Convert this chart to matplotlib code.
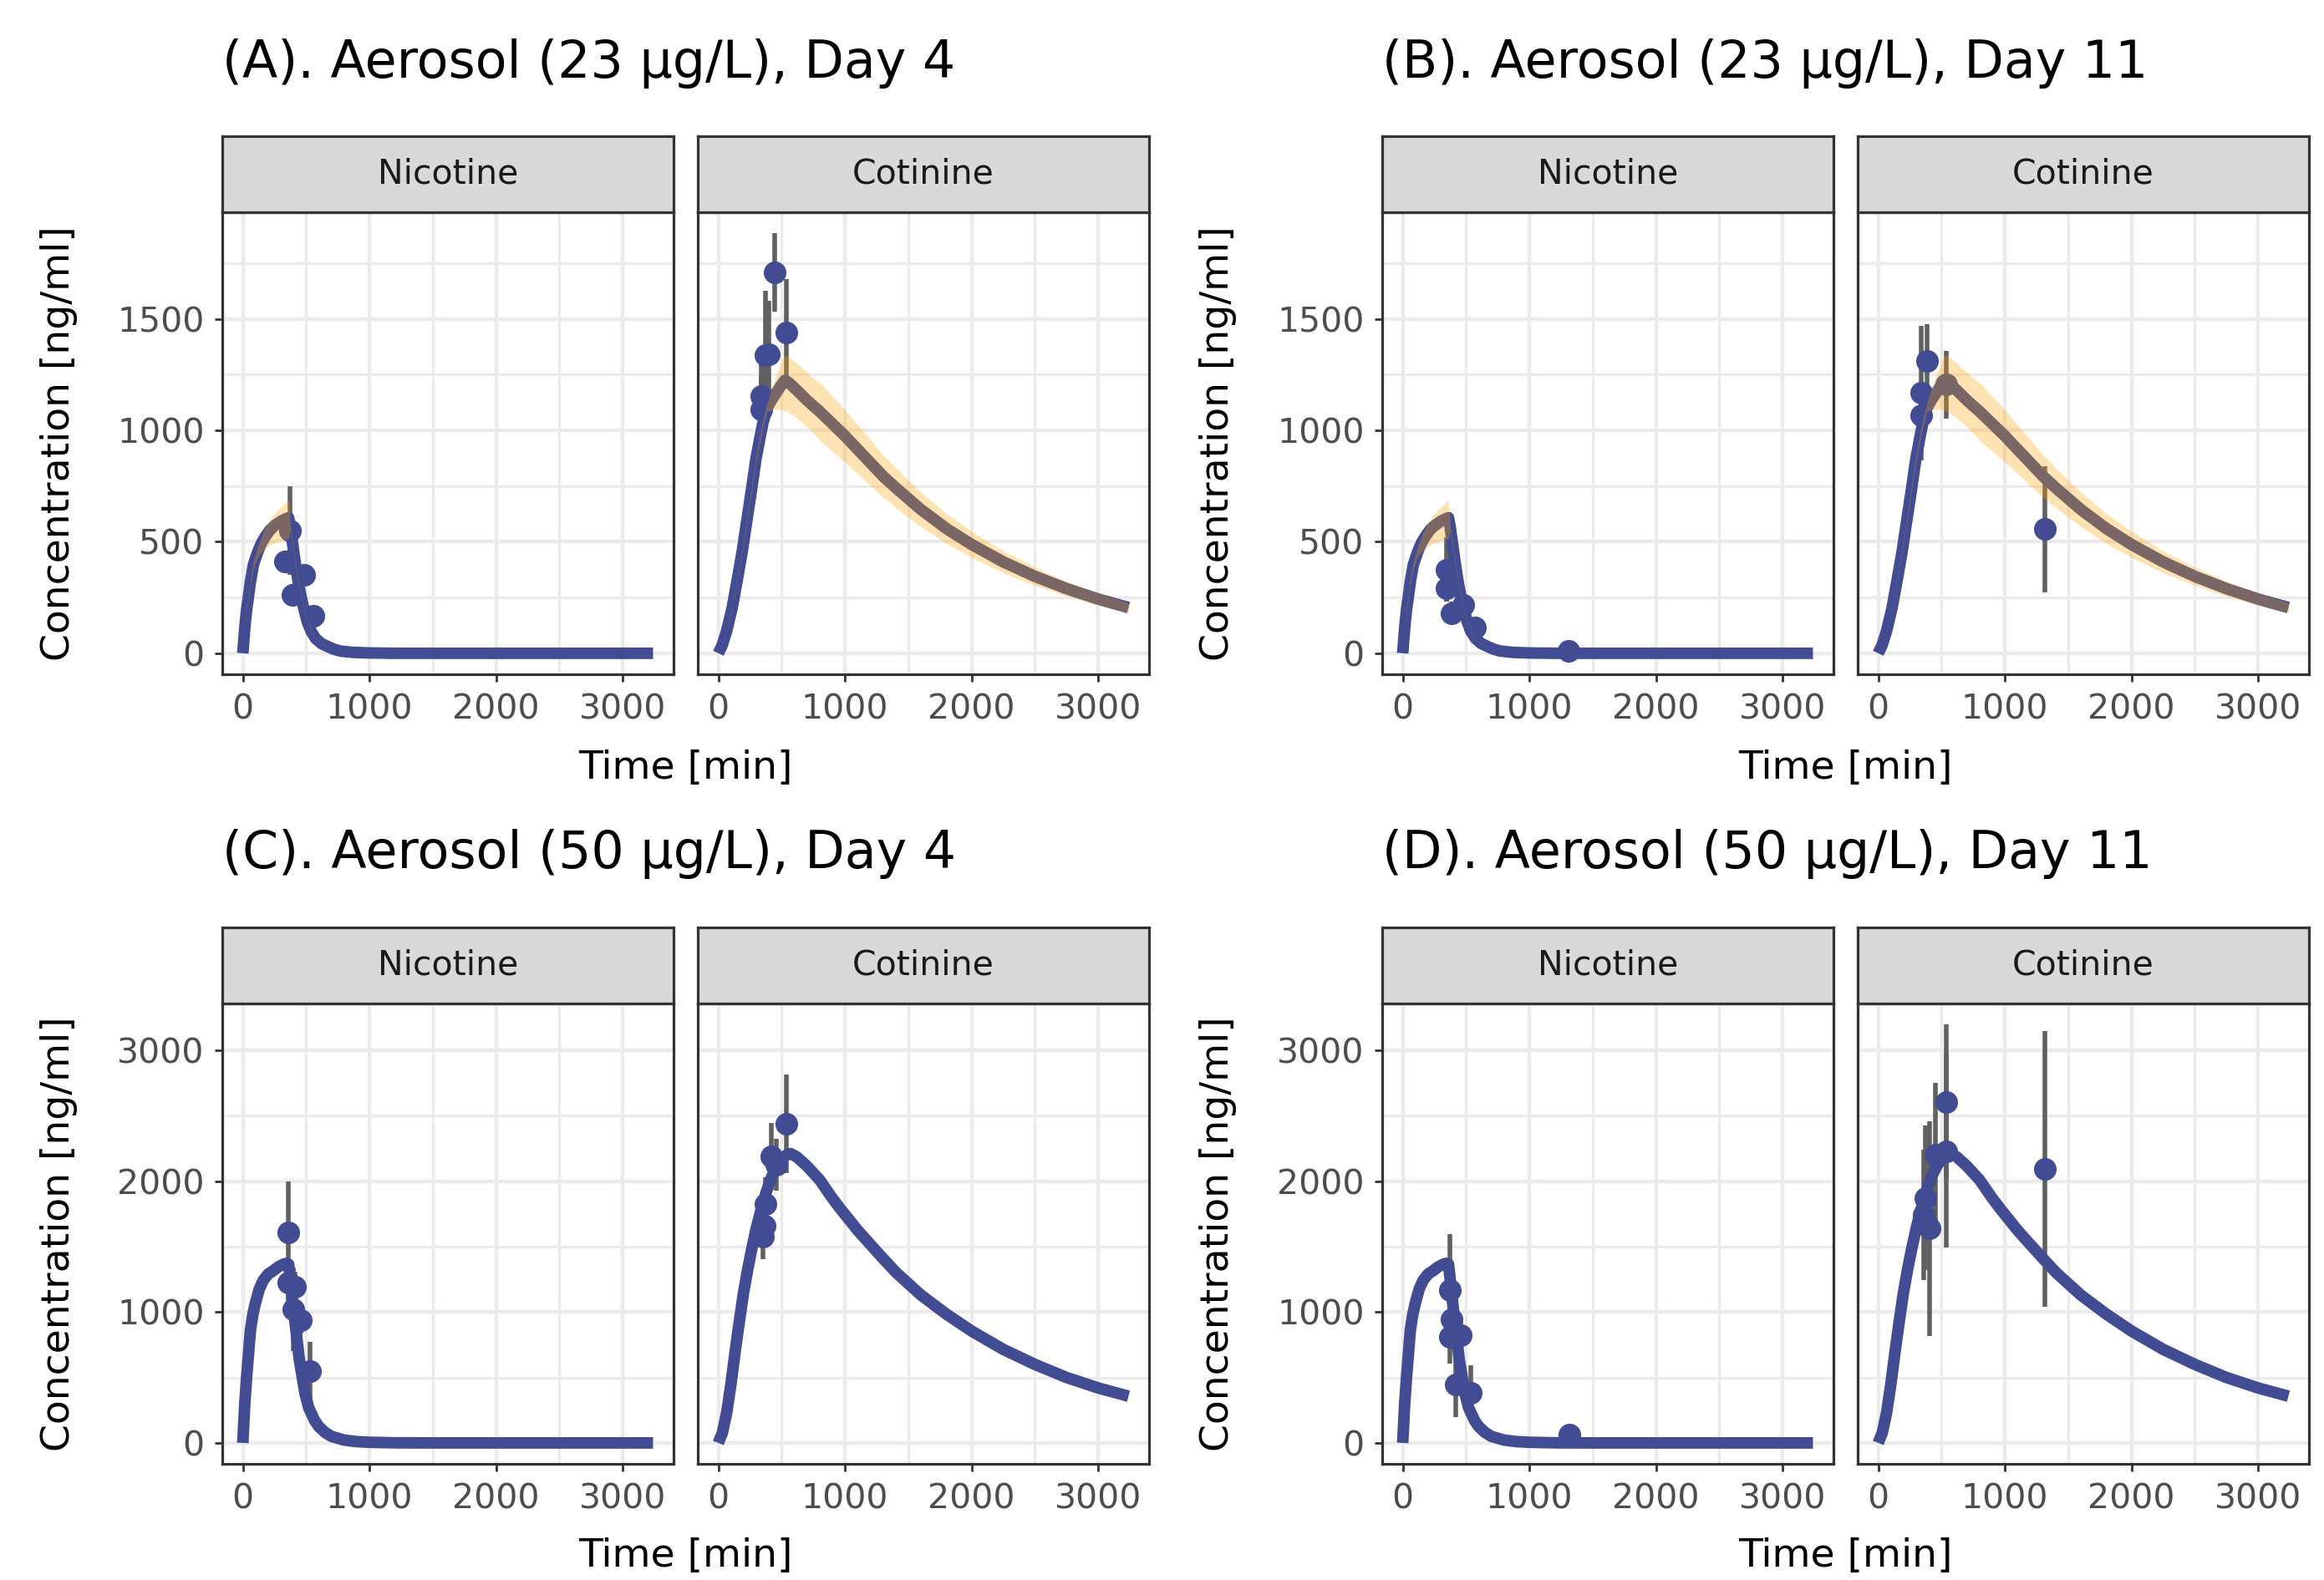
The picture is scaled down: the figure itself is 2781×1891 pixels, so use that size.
import matplotlib
matplotlib.use('Agg')
import matplotlib.pyplot as plt
from matplotlib.ticker import FixedLocator

# ---------------- data ----------------
# model prediction, 23 ug/L (shared by Day 4 and Day 11)
nic23_t = [0, 10, 20, 30, 42, 60, 83, 100, 125, 150, 180, 215, 250, 300, 340, 362, 375, 390, 407, 425,
           440, 457, 473, 490, 510, 540, 575, 620, 675, 720, 770, 870, 1000, 1200, 1500, 2000, 2500, 3000, 3240]
nic23_y = [0, 75, 140, 195, 243, 320, 395, 425, 465, 497, 525, 553, 572, 592, 603, 608, 565, 505, 435, 365,
           312, 262, 222, 183, 140, 98, 66, 44, 29, 18, 10, 4, 1.5, 0, 0, 0, 0, 0, 0]
nic23_lo = [0, 72, 135, 188, 235, 308, 378, 405, 440, 455, 470, 485, 495, 505, 510, 515, 552, 495, 428, 359,
            307, 258, 219, 180, 138, 96, 65, 43, 28.5, 17.5, 10, 4, 1.5, 0, 0, 0, 0, 0, 0]
nic23_hi = [0, 78, 145, 202, 251, 332, 412, 445, 490, 530, 565, 600, 625, 655, 678, 688, 578, 515, 442, 371,
            317, 266, 225, 186, 142, 100, 67, 45, 29.5, 18.5, 10, 4, 1.5, 0, 0, 0, 0, 0, 0]

cot23_t = [0, 30, 66, 110, 150, 190, 220, 264, 297, 330, 351, 385, 420, 460, 500, 527, 560, 620, 700, 747,
           800, 900, 1000, 1100, 1200, 1300, 1406, 1600, 1800, 2000, 2250, 2500, 2750, 3000, 3240]
cot23_y = [0, 35, 100, 205, 330, 460, 575, 740, 870, 970, 1030, 1100, 1135, 1170, 1205, 1225, 1212, 1180, 1135, 1111,
           1085, 1030, 975, 915, 855, 795, 740, 645, 560, 488, 410, 345, 290, 243, 205]
cot23_lo = [0, 34, 98, 202, 325, 453, 566, 729, 857, 955, 1015, 1085, 1090, 1095, 1092, 1087, 1080, 1055, 1015, 990,
            955, 906, 858, 805, 752, 700, 651, 568, 493, 430, 361, 304, 257, 216, 183]
cot23_hi = [0, 36, 102, 208, 335, 467, 584, 751, 883, 985, 1045, 1120, 1185, 1250, 1310, 1337, 1330, 1300, 1260, 1235,
            1215, 1154, 1092, 1025, 958, 890, 829, 722, 627, 547, 459, 386, 323, 270, 227]

# model prediction, 50 ug/L (shared by Day 4 and Day 11)
nic50_t = [0, 15, 30, 45, 60, 80, 100, 130, 160, 200, 240, 280, 320, 345, 362, 380, 400, 420, 446, 470,
           490, 520, 567, 600, 650, 700, 800, 900, 1000, 1200, 1500, 2000, 2500, 3000, 3240]
nic50_y = [0, 290, 500, 680, 860, 985, 1070, 1175, 1240, 1290, 1315, 1345, 1365, 1372, 1365, 1200, 1020, 860, 640, 500,
           384, 270, 172, 125, 80, 50, 22, 10, 5, 1, 0, 0, 0, 0, 0]
cot50_t = [0, 33, 66, 100, 132, 165, 198, 231, 264, 300, 340, 380, 420, 460, 500, 540, 571, 620, 700, 800,
           900, 967, 1100, 1187, 1300, 1406, 1600, 1800, 2000, 2250, 2500, 2750, 3000, 3240]
cot50_y = [0, 80, 230, 450, 690, 920, 1140, 1320, 1480, 1640, 1790, 1920, 2030, 2110, 2170, 2200, 2210, 2185, 2115, 2010,
           1870, 1785, 1625, 1531, 1410, 1300, 1130, 985, 855, 715, 600, 500, 420, 357]

# observations (time, mean, sd)
A_nic_t = [336, 372, 391, 484, 555]
A_nic_y = [412, 550, 262, 350, 168]
A_nic_sd = [50, 200, 50, 40, 40]
A_cot_t = [341, 341, 374, 396, 444, 539]
A_cot_y = [1155, 1092, 1337, 1340, 1708, 1438]
A_cot_sd = [200, 150, 290, 240, 176, 241]

B_nic_t = [345, 345, 385, 478, 571, 1308]
B_nic_y = [375, 293, 180, 215, 117, 10]
B_nic_sd = [145, 60, 50, 40, 30, 10]
B_cot_t = [340, 340, 384, 538, 1318]
B_cot_y = [1167, 1067, 1312, 1205, 557]
B_cot_sd = [300, 120, 163, 151, 283]

C_nic_t = [358, 358, 413, 402, 457, 534]
C_nic_y = [1605, 1223, 1191, 1021, 936, 550]
C_nic_sd = [393, 150, 120, 320, 100, 223]
C_cot_t = [356, 363, 374, 417, 461, 538]
C_cot_y = [1573, 1658, 1828, 2189, 2125, 2439]
C_cot_sd = [170, 150, 200, 255, 200, 376]

D_nic_t = [374, 385, 374, 461, 418, 539, 1318]
D_nic_y = [1170, 947, 809, 820, 448, 384, 66]
D_nic_sd = [424, 150, 200, 100, 250, 210, 20]
D_cot_t = [362, 373, 405, 450, 538, 538, 1318]
D_cot_y = [1743, 1871, 1637, 2200, 2603, 2230, 2094]
D_cot_sd = [500, 551, 818, 552, 594, 740, 1055]

titles = ['(A). Aerosol (23 µg/L), Day 4', '(B). Aerosol (23 µg/L), Day 11',
          '(C). Aerosol (50 µg/L), Day 4', '(D). Aerosol (50 µg/L), Day 11']
strip_labels = ['Nicotine', 'Cotinine']
x_major = [0, 1000, 2000, 3000]
x_minor = [500, 1500, 2500]
y_major_top = [0, 500, 1000, 1500]
y_minor_top = [250, 750, 1250, 1750]
y_major_bot = [0, 1000, 2000, 3000]
y_minor_bot = [500, 1500, 2500]

# ---------------- style ----------------
W, H = 2781, 1891
BLUE = '#424C93'
ERR = '#606060'
RIB = 'orange'
GRID = '#EBEBEB'
BORDER = '#333333'

fig = plt.figure(figsize=(W / 100, H / 100), dpi=100)


def box(x0, y0, x1, y1):
    return [x0 / W, 1 - y1 / H, (x1 - x0) / W, (y1 - y0) / H]


col_x0 = [266, 1654]
cot_off = 569
pw = 540
strip_top = [163, 1110]
plot_top = [254, 1201]
plot_bot = [807, 1752]
title_y = [76, 1022]
xlab_y = [919, 1862]
ylab_x = [71, 1458]

groups = [
    dict(title=titles[0], col=0, row=0,
         nic=(nic23_t, nic23_y, nic23_lo, nic23_hi), cot=(cot23_t, cot23_y, cot23_lo, cot23_hi),
         nic_obs=(A_nic_t, A_nic_y, A_nic_sd), cot_obs=(A_cot_t, A_cot_y, A_cot_sd)),
    dict(title=titles[1], col=1, row=0,
         nic=(nic23_t, nic23_y, nic23_lo, nic23_hi), cot=(cot23_t, cot23_y, cot23_lo, cot23_hi),
         nic_obs=(B_nic_t, B_nic_y, B_nic_sd), cot_obs=(B_cot_t, B_cot_y, B_cot_sd)),
    dict(title=titles[2], col=0, row=1,
         nic=(nic50_t, nic50_y, None, None), cot=(cot50_t, cot50_y, None, None),
         nic_obs=(C_nic_t, C_nic_y, C_nic_sd), cot_obs=(C_cot_t, C_cot_y, C_cot_sd)),
    dict(title=titles[3], col=1, row=1,
         nic=(nic50_t, nic50_y, None, None), cot=(cot50_t, cot50_y, None, None),
         nic_obs=(D_nic_t, D_nic_y, D_nic_sd), cot_obs=(D_cot_t, D_cot_y, D_cot_sd)),
]

# y-limits per row from the data (5 % expansion like ggplot)
row_max = [0, 0]
for g in groups:
    for obs in (g['nic_obs'], g['cot_obs']):
        m = max(y + s for y, s in zip(obs[1], obs[2]))
        row_max[g['row']] = max(row_max[g['row']], m)
xmax = max(nic23_t)
xlim = (-0.05 * xmax, 1.05 * xmax)

for g in groups:
    r, c = g['row'], g['col']
    ylim = (-0.05 * row_max[r], 1.05 * row_max[r])
    ymaj = y_major_top if r == 0 else y_major_bot
    ymin = y_minor_top if r == 0 else y_minor_bot
    for k, (key, okey) in enumerate((('nic', 'nic_obs'), ('cot', 'cot_obs'))):
        x0 = col_x0[c] + k * cot_off
        ax = fig.add_axes(box(x0, plot_top[r], x0 + pw, plot_bot[r]))
        ax.set_xlim(*xlim)
        ax.set_ylim(*ylim)
        ax.xaxis.set_major_locator(FixedLocator(x_major))
        ax.xaxis.set_minor_locator(FixedLocator(x_minor))
        ax.yaxis.set_major_locator(FixedLocator(ymaj))
        ax.yaxis.set_minor_locator(FixedLocator(ymin))
        ax.grid(which='major', color=GRID, lw=3.2, zorder=0)
        ax.grid(which='minor', color=GRID, lw=2.4, zorder=0)
        ax.set_axisbelow(True)
        for sp in ax.spines.values():
            sp.set_color(BORDER)
            sp.set_linewidth(2.3)
            sp.set_zorder(10)
        ax.tick_params(which='major', direction='out', length=6.5, width=2.0, color=BORDER,
                       labelsize=29.5, labelcolor='#4D4D4D')
        ax.tick_params(axis='x', which='major', pad=10)
        ax.tick_params(axis='y', which='major', pad=9)
        ax.tick_params(which='minor', length=0)
        if k == 1:
            ax.tick_params(axis='y', which='both', left=False, labelleft=False)

        t, y, lo, hi = g[key]
        ot, oy, osd = g[okey]
        ax.vlines(ot, [a - b for a, b in zip(oy, osd)], [a + b for a, b in zip(oy, osd)],
                  color=ERR, lw=4.0, zorder=2)
        ax.plot(ot, oy, 'o', color=BLUE, ms=19.5, mec='none', zorder=3)
        ax.plot(t, y, color=BLUE, lw=10, solid_capstyle='butt', solid_joinstyle='round', zorder=4)
        if lo is not None:
            ax.fill_between(t, lo, hi, color=RIB, alpha=0.3, lw=0, zorder=5)

        # strip
        sax = fig.add_axes(box(x0, strip_top[r], x0 + pw, plot_top[r]))
        sax.set_facecolor('#D9D9D9')
        sax.set_xticks([])
        sax.set_yticks([])
        for sp in sax.spines.values():
            sp.set_color(BORDER)
            sp.set_linewidth(2.3)
        sax.text(0.5, 0.5, strip_labels[k], transform=sax.transAxes, ha='center', va='center',
                 fontsize=29.5, color='#1A1A1A')

    # titles and axis labels
    fig.text(col_x0[c] / W, 1 - title_y[r] / H, g['title'], ha='left', va='center',
             fontsize=44.5, color='black')
    xc = (col_x0[c] + col_x0[c] + cot_off + pw) / 2
    fig.text(xc / W, 1 - xlab_y[r] / H, 'Time [min]', ha='center', va='center', fontsize=34)
    yc = (plot_top[r] + plot_bot[r]) / 2
    fig.text(ylab_x[c] / W, 1 - yc / H, 'Concentration [ng/ml]', ha='center', va='center',
             rotation=90, fontsize=34)

fig.savefig('out.png', dpi=100, facecolor='white')
